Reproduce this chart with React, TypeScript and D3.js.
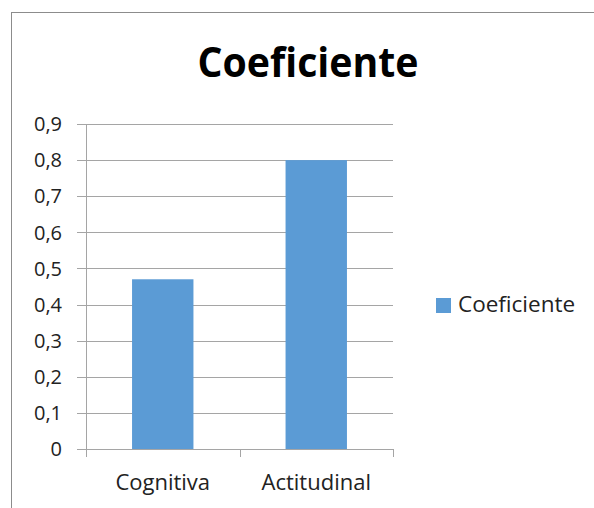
import { formatLocale, scaleBand, scaleLinear } from 'd3';

const categories = ['Cognitiva', 'Actitudinal'];
const values = [0.47, 0.8];
const seriesName = 'Coeficiente';
const yTicks = [0, 0.1, 0.2, 0.3, 0.4, 0.5, 0.6, 0.7, 0.8, 0.9];

const esFormat = formatLocale({
  decimal: ',',
  thousands: '.',
  grouping: [3],
  currency: ['', ' €'],
}).format('~g');

const FONT = '"Open Sans", "DejaVu Sans", sans-serif';
const BAR = '#5B9BD5';
const GRID = '#A5A5A5';

export default function App() {
  const left = 86;
  const right = 393;
  const top = 124;
  const bottom = 449;

  const x = scaleBand<string>()
    .domain(categories)
    .range([left, right])
    .paddingInner(0.6)
    .paddingOuter(0.3);
  const band = scaleBand<string>().domain(categories).range([left, right]);
  const y = scaleLinear().domain([0, 0.9]).range([bottom, top]);

  return (
    <svg
      width={594}
      height={508}
      style={{ position: 'absolute', left: 0, top: 0 }}
      fontFamily={FONT}
    >
      <rect x={0} y={0} width={594} height={508} fill="#fff" />
      <rect
        x={11.5}
        y={12.5}
        width={600}
        height={520}
        fill="none"
        stroke="#8C8C8C"
        strokeWidth={1}
      />
      <text
        x={308}
        y={77}
        textAnchor="middle"
        fontSize={41}
        fontWeight="bold"
        textLength={221}
        lengthAdjust="spacingAndGlyphs"
      >
        {seriesName}
      </text>

      {yTicks.map((t) => (
        <g key={`tick-${t}`}>
          <line
            x1={77}
            x2={right}
            y1={Math.round(y(t)) + 0.5}
            y2={Math.round(y(t)) + 0.5}
            stroke={GRID}
          />
          <text
            x={62}
            y={y(t)}
            dy="0.36em"
            textAnchor="end"
            fontSize={20}
            fill="#222"
          >
            {esFormat(t)}
          </text>
        </g>
      ))}

      <line x1={left + 0.5} x2={left + 0.5} y1={top} y2={bottom} stroke={GRID} />
      {[...categories.map((c) => band(c) as number), right].map((px) => (
        <line
          key={`xt-${px}`}
          x1={Math.round(px) + 0.5}
          x2={Math.round(px) + 0.5}
          y1={bottom}
          y2={bottom + 8}
          stroke={GRID}
        />
      ))}

      {categories.map((c, i) => (
        <rect
          key={`bar-${c}`}
          x={x(c)}
          y={y(values[i])}
          width={x.bandwidth()}
          height={bottom - y(values[i])}
          fill={BAR}
        />
      ))}

      {categories.map((c) => (
        <text
          key={`lbl-${c}`}
          x={(band(c) as number) + band.bandwidth() / 2}
          y={490}
          textAnchor="middle"
          fontSize={22}
          fill="#222"
        >
          {c}
        </text>
      ))}

      <rect x={436} y={298} width={15} height={15} fill={BAR} />
      <text x={458} y={312} fontSize={22.5} fill="#222">
        {seriesName}
      </text>
    </svg>
  );
}
